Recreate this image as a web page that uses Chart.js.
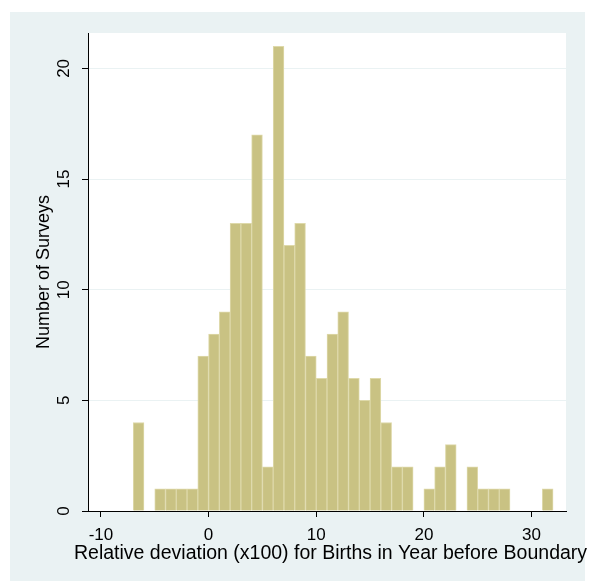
<!DOCTYPE html>
<html>
<head>
<meta charset="utf-8">
<script src="https://cdn.jsdelivr.net/npm/chart.js@4"></script>
<style>
  html, body { margin: 0; padding: 0; background: #ffffff; }
  #wrap { width: 590px; height: 581px; }
</style>
</head>
<body>
<div id="wrap"><canvas id="histChart" width="590" height="581"></canvas></div>
<script>
// lower edge of each one-unit bin and the number of surveys in it
let binStarts = [-7, -6, -5, -4, -3, -2, -1, 0, 1, 2, 3, 4, 5, 6, 7, 8, 9, 10, 11, 12,
  13, 14, 15, 16, 17, 18, 19, 20, 21, 22, 23, 24, 25, 26, 27, 28, 29, 30, 31];
let counts = [4, 0, 1, 1, 1, 1, 7, 8, 9, 13, 13, 17, 2, 21, 12, 13, 7, 6, 8, 9,
  6, 5, 6, 4, 2, 2, 0, 1, 2, 3, 0, 2, 1, 1, 1, 0, 0, 0, 1];
let xTicks = [-10, 0, 10, 20, 30];
let yTicks = [0, 5, 10, 15, 20];

let xTitle = "Relative deviation (x100) for Births in Year before Boundary";
let yTitle = "Number of Surveys";

const regionBlue = "#EAF2F3";
const font = "'Liberation Sans', Arial, sans-serif";

// bars sit on the bin centres so each one spans its whole bin
let points = binStarts.map((b, i) => ({ x: b + 0.5, y: counts[i] }));

const backdrop = {
  id: "backdrop",
  beforeDraw(chart) {
    const { ctx, chartArea } = chart;
    ctx.save();
    ctx.fillStyle = "#ffffff";
    ctx.fillRect(0, 0, chart.width, chart.height);
    ctx.fillStyle = regionBlue;
    ctx.fillRect(10, 12, 575, chart.height - 12);
    ctx.fillStyle = "#ffffff";
    ctx.fillRect(chartArea.left, chartArea.top,
      chartArea.right - chartArea.left, chartArea.bottom - chartArea.top);
    ctx.restore();
  },
};

const axisTitles = {
  id: "axisTitles",
  afterDraw(chart) {
    const { ctx, chartArea } = chart;
    ctx.save();
    ctx.fillStyle = "#000000";
    ctx.textBaseline = "alphabetic";
    ctx.font = "19.5px " + font;
    ctx.textAlign = "left";
    ctx.fillText(xTitle, 74, 559);
    ctx.font = "18px " + font;
    ctx.textAlign = "center";
    ctx.translate(49, (chartArea.top + chartArea.bottom) / 2);
    ctx.rotate(-Math.PI / 2);
    ctx.fillText(yTitle, 0, 0);
    ctx.restore();
  },
};

new Chart("histChart", {
  type: "bar",
  data: {
    datasets: [
      {
        data: points,
        backgroundColor: "rgb(201, 194, 131)",
        borderColor: "rgb(222, 217, 170)",
        borderWidth: 1,
        barPercentage: 1,
        categoryPercentage: 1,
      },
    ],
  },
  options: {
    responsive: false,
    animation: false,
    layout: { padding: { left: 10, top: 33, right: 24, bottom: 0 } },
    plugins: {
      legend: { display: false },
      tooltip: { enabled: false },
    },
    scales: {
      x: {
        type: "linear",
        min: -11.2,
        max: 33.2,
        offset: false,
        afterBuildTicks: (scale) => {
          scale.ticks = xTicks.map((v) => ({ value: v }));
        },
        afterFit: (scale) => {
          scale.height = 70;
        },
        grid: {
          offset: false,
          drawOnChartArea: false,
          tickLength: 6,
          tickColor: "#000000",
        },
        border: { color: "#000000", width: 1 },
        ticks: {
          color: "#000000",
          font: { family: font, size: 17 },
          padding: 8,
          maxRotation: 0,
          autoSkip: false,
        },
      },
      y: {
        min: 0,
        max: 21.6,
        afterBuildTicks: (scale) => {
          scale.ticks = yTicks.map((v) => ({ value: v }));
        },
        afterFit: (scale) => {
          scale.width = 78;
        },
        grid: {
          color: regionBlue,
          tickLength: 6,
          tickColor: "#000000",
        },
        border: { color: "#000000", width: 1 },
        ticks: {
          color: "#000000",
          font: { family: font, size: 17 },
          minRotation: 90,
          maxRotation: 90,
          crossAlign: "center",
          padding: 8,
          autoSkip: false,
        },
      },
    },
  },
  plugins: [backdrop, axisTitles],
});
</script>
</body>
</html>
